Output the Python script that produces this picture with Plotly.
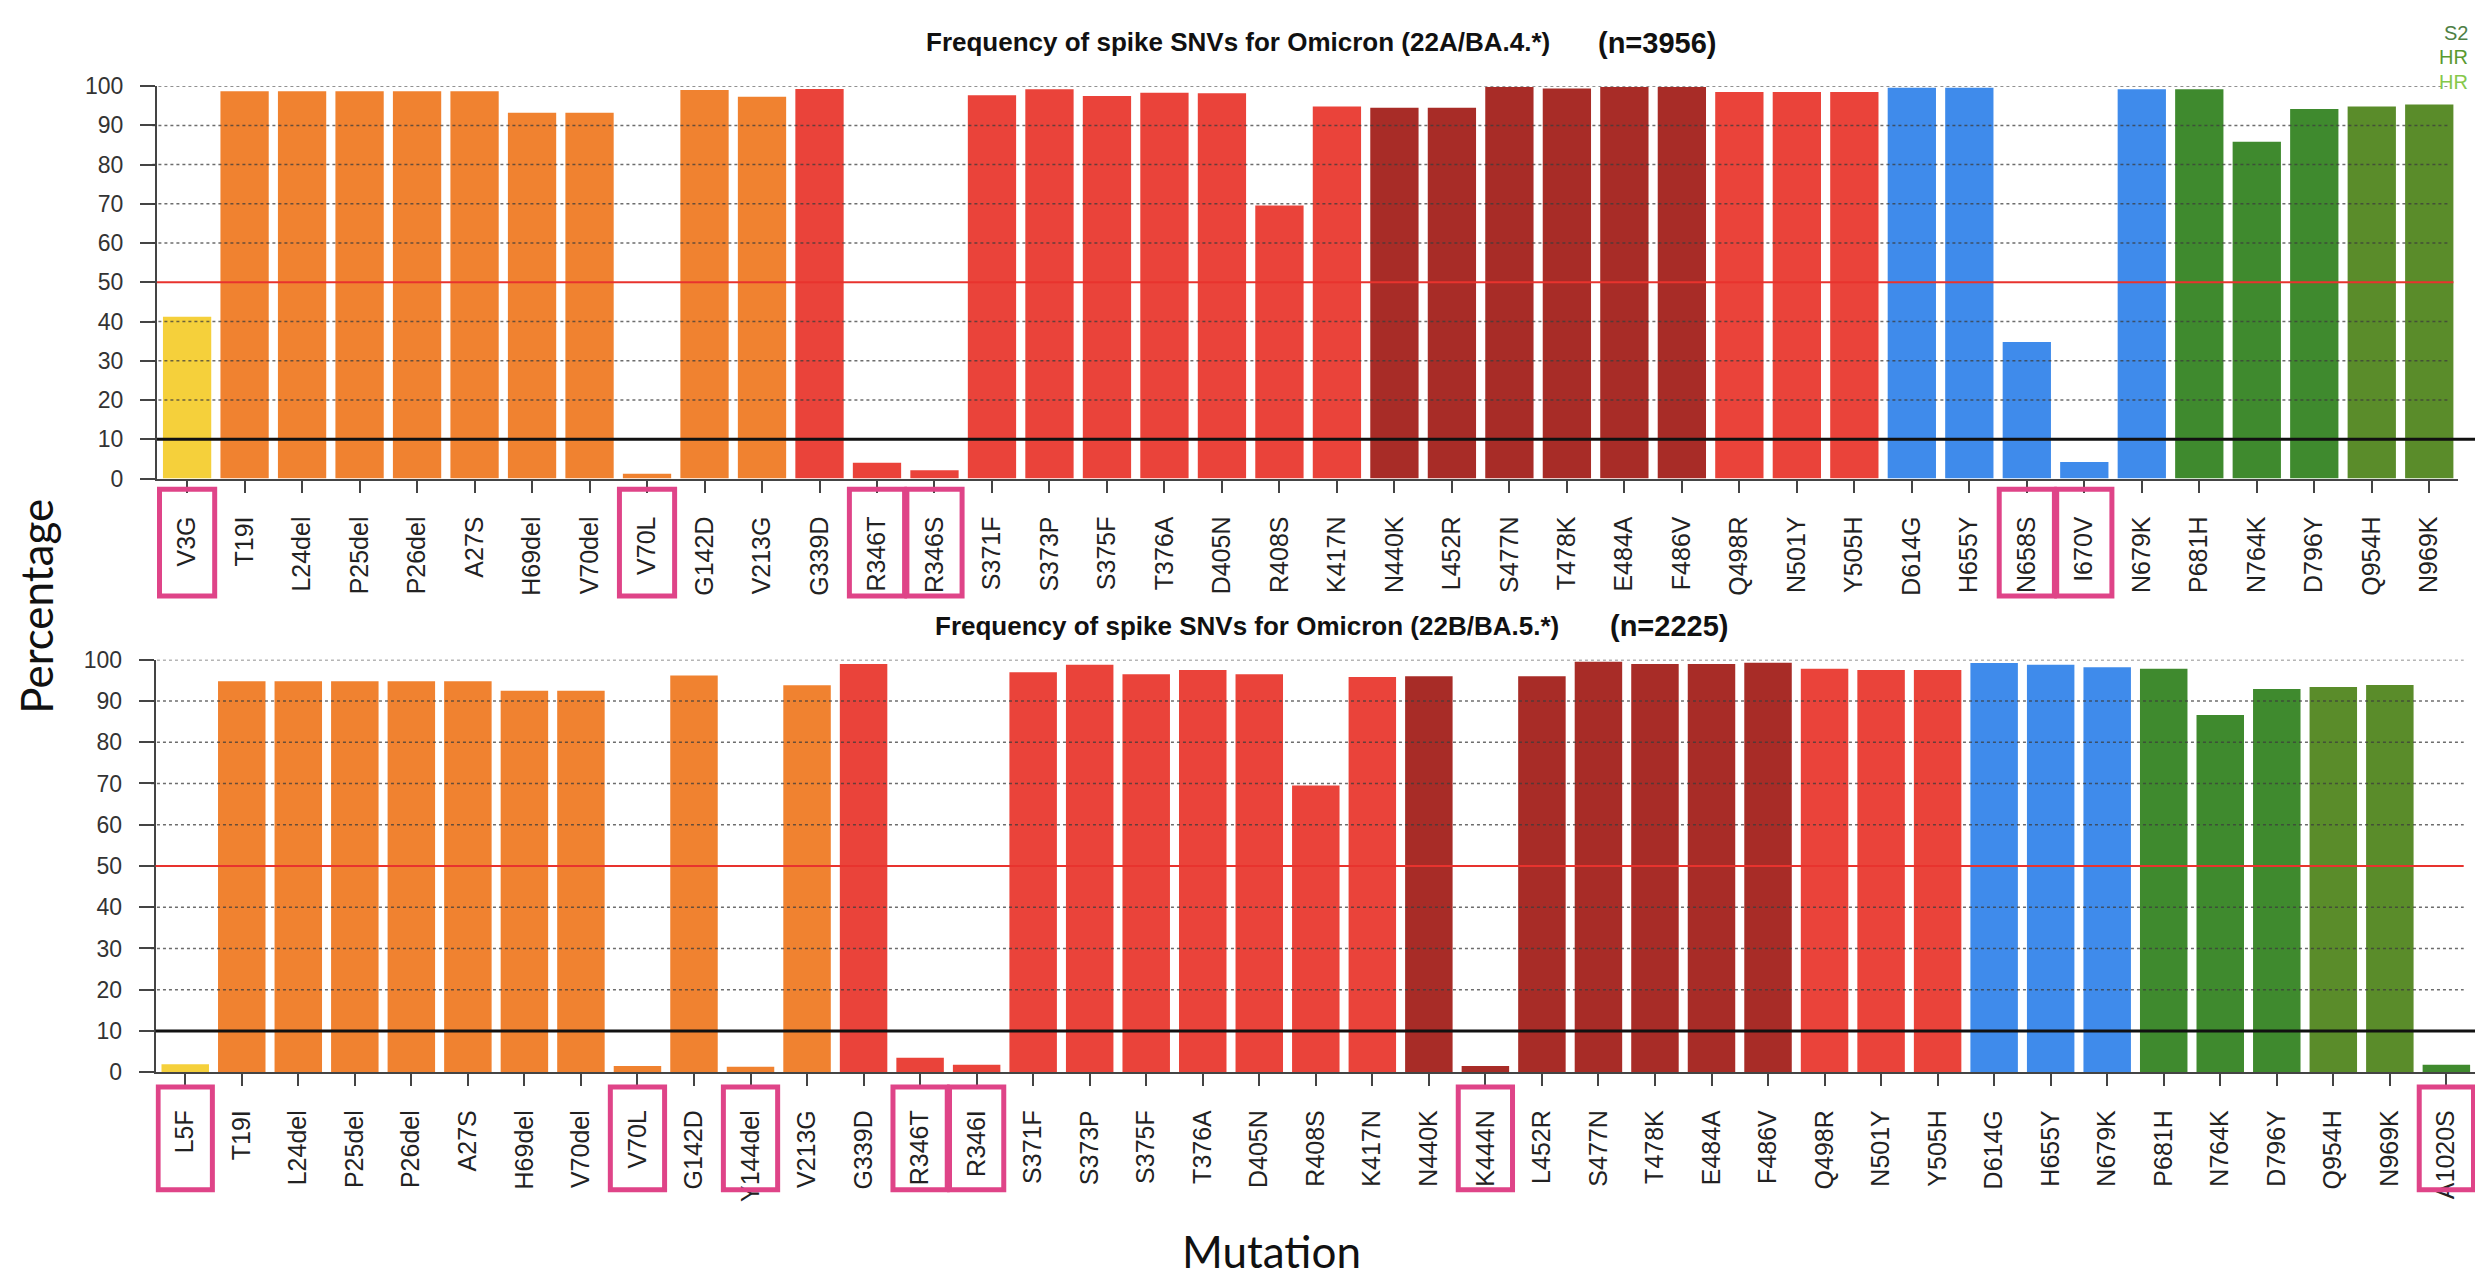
import plotly.graph_objects as go

# BA.4 (22A) panel
ba4_mutations = ["V3G", "T19I", "L24del", "P25del", "P26del", "A27S", "H69del", "V70del", "V70L",
                 "G142D", "V213G", "G339D", "R346T", "R346S", "S371F", "S373P", "S375F", "T376A",
                 "D405N", "R408S", "K417N", "N440K", "L452R", "S477N", "T478K", "E484A", "F486V",
                 "Q498R", "N501Y", "Y505H", "D614G", "H655Y", "N658S", "I670V", "N679K", "P681H",
                 "N764K", "D796Y", "Q954H", "N969K"]
ba4_percent = [41.2, 98.7, 98.7, 98.7, 98.7, 98.7, 93.2, 93.2, 1.2,
               99.0, 97.3, 99.3, 4.0, 2.1, 97.7, 99.2, 97.5, 98.3,
               98.2, 69.6, 94.8, 94.5, 94.5, 99.8, 99.4, 99.8, 99.8,
               98.5, 98.5, 98.5, 99.6, 99.6, 34.8, 4.2, 99.2, 99.2,
               85.8, 94.2, 94.8, 95.3]
ba4_region = ["SP", "NTD", "NTD", "NTD", "NTD", "NTD", "NTD", "NTD", "NTD",
              "NTD", "NTD", "RBD", "RBD", "RBD", "RBD", "RBD", "RBD", "RBD",
              "RBD", "RBD", "RBD", "RBM", "RBM", "RBM", "RBM", "RBM", "RBM",
              "RBD", "RBD", "RBD", "SD2", "SD2", "SD2", "SD2", "SD2", "S2",
              "S2", "S2", "HR1", "HR1"]
ba4_boxed = ["V3G", "V70L", "R346T", "R346S", "N658S", "I670V"]

# BA.5 (22B) panel
ba5_mutations = ["L5F", "T19I", "L24del", "P25del", "P26del", "A27S", "H69del", "V70del", "V70L",
                 "G142D", "Y144del", "V213G", "G339D", "R346T", "R346I", "S371F", "S373P", "S375F",
                 "T376A", "D405N", "R408S", "K417N", "N440K", "K444N", "L452R", "S477N", "T478K",
                 "E484A", "F486V", "Q498R", "N501Y", "Y505H", "D614G", "H655Y", "N679K", "P681H",
                 "N764K", "D796Y", "Q954H", "N969K", "A1020S"]
ba5_percent = [1.9, 94.8, 94.8, 94.8, 94.8, 94.8, 92.5, 92.5, 1.5,
               96.2, 1.3, 93.8, 99.0, 3.5, 1.8, 97.0, 98.8, 96.5,
               97.5, 96.5, 69.5, 95.8, 96.0, 1.5, 96.0, 99.5, 99.0,
               99.0, 99.3, 97.8, 97.5, 97.5, 99.2, 98.8, 98.2, 97.8,
               86.6, 92.9, 93.4, 93.9, 1.8]
ba5_region = ["SP", "NTD", "NTD", "NTD", "NTD", "NTD", "NTD", "NTD", "NTD",
              "NTD", "NTD", "NTD", "RBD", "RBD", "RBD", "RBD", "RBD", "RBD",
              "RBD", "RBD", "RBD", "RBD", "RBM", "RBM", "RBM", "RBM", "RBM",
              "RBM", "RBM", "RBD", "RBD", "RBD", "SD2", "SD2", "SD2", "S2",
              "S2", "S2", "HR1", "HR1", "S2"]
ba5_boxed = ["L5F", "V70L", "Y144del", "R346T", "R346I", "K444N", "A1020S"]

y_ticks = [0, 10, 20, 30, 40, 50, 60, 70, 80, 90, 100]
grid_values = [20, 30, 40, 60, 70, 80, 90, 100]

REGION_COLORS = {
    "SP": "#F5D03B",
    "NTD": "#F08230",
    "RBD": "#EA433A",
    "RBM": "#A82C27",
    "SD2": "#3F8BEB",
    "S2": "#3F8A2E",
    "HR1": "#5A8C2A",
}

W, H = 2483, 1280
FONT = "Liberation Sans, Arial, Helvetica, sans-serif"
LABEL_FONT = "Lato, Open Sans, sans-serif"
PINK = "#DF4488"


def px(x):
    return x / W


def py(y):
    return 1 - y / H


fig = go.Figure()
fig.add_trace(go.Bar(
    x=ba4_mutations, y=ba4_percent,
    marker=dict(color=[REGION_COLORS[r] for r in ba4_region], line=dict(width=0)),
    xaxis="x", yaxis="y",
    hovertemplate="%{x}: %{y:.1f}%<extra></extra>",
))
fig.add_trace(go.Bar(
    x=ba5_mutations, y=ba5_percent,
    marker=dict(color=[REGION_COLORS[r] for r in ba5_region], line=dict(width=0)),
    xaxis="x2", yaxis="y2",
    hovertemplate="%{x}: %{y:.1f}%<extra></extra>",
))

xaxis_common = dict(
    type="category", tickangle=-90, ticks="outside", ticklen=12, tickwidth=2,
    tickcolor="#444", showline=True, linecolor="#444", linewidth=2,
    showgrid=False, zeroline=False, ticklabelstandoff=14,
    tickfont=dict(family=FONT, size=25, color="#222"),
)
yaxis_common = dict(
    range=[0, 100], tickvals=y_ticks, ticks="outside", ticklen=15, tickwidth=2,
    tickcolor="#444", showline=True, linecolor="#444", linewidth=2,
    showgrid=False, zeroline=False, ticklabelstandoff=12,
    tickfont=dict(family=FONT, size=23, color="#333"),
)

fig.update_layout(
    width=W, height=H,
    margin=dict(l=0, r=0, t=0, b=0),
    plot_bgcolor="white", paper_bgcolor="white",
    showlegend=False, bargap=0.16,
    font=dict(family=FONT, color="#111"),
    xaxis=dict(xaxis_common, domain=[px(149), px(2450)], anchor="y"),
    yaxis=dict(yaxis_common, domain=[py(467), py(66.5)], anchor="x"),
    xaxis2=dict(xaxis_common, domain=[px(147.6), px(2468)], anchor="y2"),
    yaxis2=dict(yaxis_common, domain=[py(1073), py(652)], anchor="x2"),
)

shapes = []
for xr, yr, grid_end, red_end, black_end in [("x", "y", 0.9966, 0.998, 1.0088),
                                              ("x2", "y2", 0.9947, 0.9947, 1.02)]:
    for g in grid_values:
        shapes.append(dict(type="line", xref=f"{xr} domain", yref=yr, x0=-0.002, x1=grid_end,
                           y0=g, y1=g, layer="above",
                           line=dict(color="rgba(60,60,60,0.75)", width=1.5, dash="dot")))
    shapes.append(dict(type="line", xref=f"{xr} domain", yref=yr, x0=0, x1=red_end,
                       y0=50, y1=50, layer="above", line=dict(color="#E8332E", width=2)))
    shapes.append(dict(type="line", xref=f"{xr} domain", yref=yr, x0=0, x1=black_end,
                       y0=10, y1=10, layer="above", line=dict(color="#111", width=3)))

# pink boxes around the highlighted labels
for names, boxed, xr, y0, y1 in [(ba4_mutations, ba4_boxed, "x", 478, 587),
                                 (ba5_mutations, ba5_boxed, "x2", 1088, 1193)]:
    for m in boxed:
        i = names.index(m)
        shapes.append(dict(type="rect", xref=xr, yref="paper",
                           x0=i - 0.48, x1=i + 0.48, y0=py(y1), y1=py(y0),
                           line=dict(color=PINK, width=5), fillcolor="rgba(0,0,0,0)"))
fig.update_layout(shapes=shapes)

annotations = [
    dict(text="<b>Frequency of spike SNVs for Omicron (22A/BA.4.*)</b>", x=px(1230), y=py(21),
         font=dict(family=FONT, size=26, color="#111")),
    dict(text="<b>(n=3956)</b>", x=px(1588), y=py(22), xanchor="left",
         font=dict(family=FONT, size=29, color="#111")),
    dict(text="<b>Frequency of spike SNVs for Omicron (22B/BA.5.*)</b>", x=px(1239), y=py(618),
         font=dict(family=FONT, size=26, color="#111")),
    dict(text="<b>(n=2225)</b>", x=px(1600), y=py(618), xanchor="left",
         font=dict(family=FONT, size=29, color="#111")),
    dict(text="Percentage", x=px(28), y=py(598), textangle=-90,
         font=dict(family=LABEL_FONT, size=44, color="#111")),
    dict(text="Mutation", x=px(1263), y=py(1256),
         font=dict(family=LABEL_FONT, size=44, color="#111")),
    dict(text="S2", x=px(2462), y=py(12), xanchor="right",
         font=dict(family=FONT, size=20, color="#4E7F45")),
    dict(text="HR", x=px(2462), y=py(37), xanchor="right",
         font=dict(family=FONT, size=20, color="#5A9A30")),
    dict(text="HR", x=px(2462), y=py(62), xanchor="right",
         font=dict(family=FONT, size=20, color="#86C84A")),
]
for a in annotations:
    a.setdefault("xanchor", "center")
    a.update(xref="paper", yref="paper", yanchor="middle", showarrow=False)
fig.update_layout(annotations=annotations)

fig.write_html("out.html")
